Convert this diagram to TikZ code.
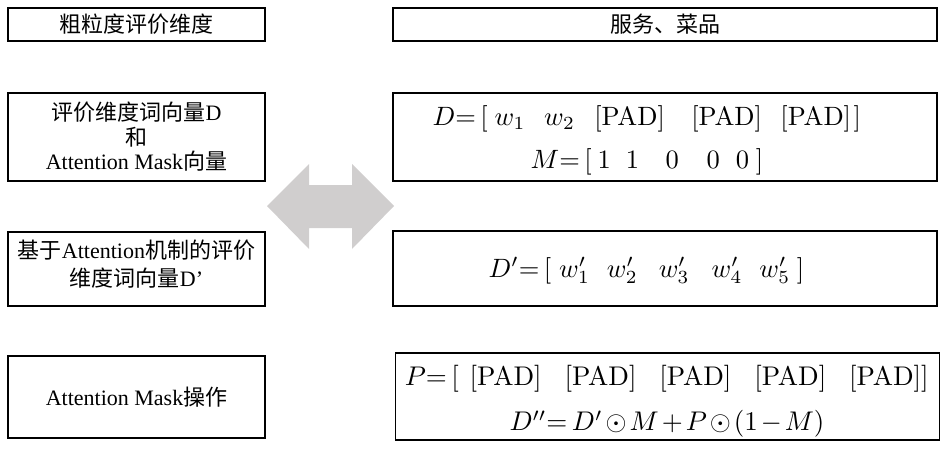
\RequirePackage{fix-cm}
\documentclass[tikz,border=0pt]{standalone}
\usepackage{amsmath,amssymb}
\usepackage{graphicx}
\usepackage[no-math]{fontspec}
\setmainfont{Liberation Serif}
\newfontfamily\cjk{Noto Sans CJK SC}
\usetikzlibrary{positioning}
\definecolor{arrowgray}{HTML}{D0CECE}
% scaled formula lines, set at 10pt and blown up
\newcommand{\eqlines}[3]{\scalebox{#1}{\def\arraystretch{#2}\begin{tabular}{@{}c@{}}#3\end{tabular}}}
\newcommand{\pad}{[\mathrm{PAD}]}
\newcommand{\gap}[1]{\hspace{#1pt}}

\begin{document}
\begin{tikzpicture}[x=1pt,y=-1pt,
  box/.style={draw,line width=1.5pt,inner sep=0pt},
  lbox/.style={box,minimum width=257pt},
  rbox/.style={box,minimum width=544pt},
  txt/.style={font=\fontsize{22}{24.5}\selectfont,align=center},
  mth/.style={inner sep=0pt}]
\useasboundingbox (0,0) rectangle (946,452);
% row 1
\node[lbox,minimum height=33pt,txt] (grain) at (136.5,24.5) {\cjk 粗粒度评价维度};
\node[rbox,minimum height=33pt,txt] (aspect) at (665,24.5) {\cjk 服务、菜品};
% row 2
\node[lbox,minimum height=88pt,txt] (dmask) at (136.5,137)
  {{\cjk 评价维度词向量}D\\{\cjk 和}\\Attention Mask{\cjk 向量}};
\node[rbox,minimum height=88pt] (dmaskval) at (665,137) {};
\node[mth] (dmasktxt) at ([xshift=-18pt,yshift=-1pt]dmaskval.center)
  {\eqlines{2.65}{1.36}{$D{=}\,[\gap{2.6}w_1\gap{7}w_2\gap{7.3}\pad\gap{10}\pad\gap{7}\pad\gap{1}]$\\
   $M{=}\,[\gap{2.3}1\gap{5.6}1\gap{10}0\gap{10.5}0\gap{6}0\gap{2.6}]$}};
% row 3
\node[lbox,minimum height=74pt] (datt) at (136.5,269) {};
\node[txt,font=\fontsize{22}{28}\selectfont] (datttxt) at ([yshift=5pt]datt.center)
  {{\cjk 基于}Attention{\cjk 机制的评价}\\{\cjk 维度词向量}D’};
\node[rbox,minimum height=75pt] (dattval) at (665,268.5) {};
\node[mth] (dattvaltxt) at ([xshift=-18.5pt,yshift=-1pt]dattval.center)
  {\eqlines{2.65}{1.183}{$D'{=}\,[\gap{3}w_1'\gap{6.4}w_2'\gap{7.9}w_3'\gap{8.3}w_4'\gap{6.4}w_5'\gap{2.5}]$}};
% row 4
\node[lbox,minimum height=82pt,txt] (maskop) at (136.5,397) {Attention Mask{\cjk 操作}};
\node[rbox,minimum height=87pt] (maskval) at (667.5,396.5) {};
\node[mth] (maskvaltxt) at ([xshift=-0.5pt,yshift=-2.3pt]maskval.center)
  {\eqlines{2.7}{1.417}{$P{=}\,[\gap{4}\pad\gap{8.5}\pad\gap{8.5}\pad\gap{8.5}\pad\gap{8.5}\pad]$\\
   $\medmuskip=2mu D''{=}\,D'\odot M+P\odot(1-M)$}};
% double arrow
\fill[arrowgray] (267,206) -- (309,164) -- (309,185) -- (352,185) -- (352,164)
  -- (394,206) -- (352,249) -- (352,228) -- (309,228) -- (309,249) -- cycle;
\end{tikzpicture}
\end{document}
